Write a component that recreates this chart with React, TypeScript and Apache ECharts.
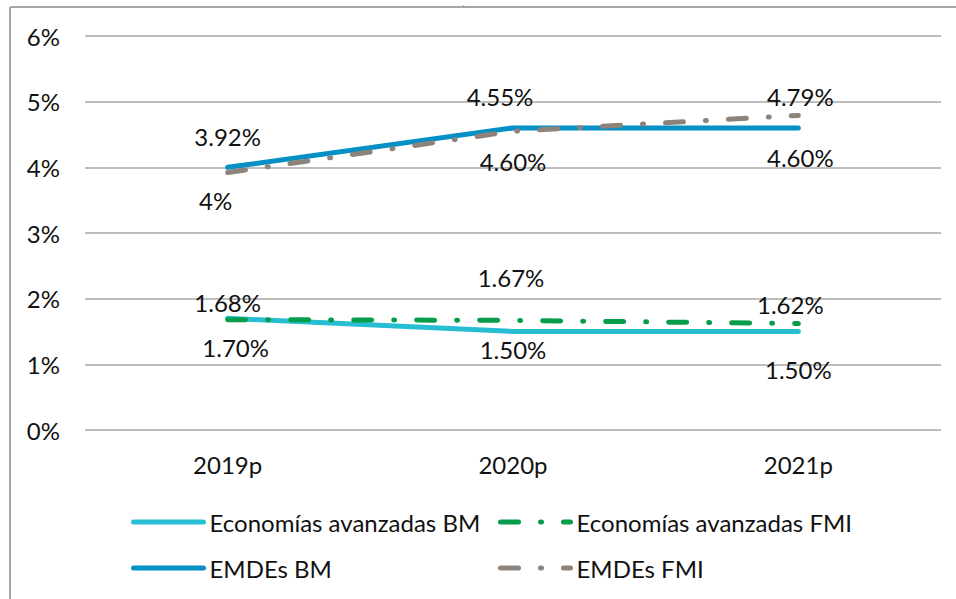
import React, { useEffect, useRef } from "react";
import * as echarts from "echarts";

const categories = ["2019p", "2020p", "2021p"];
const yTicks = [0, 1, 2, 3, 4, 5, 6];

const avanzadasBM = [1.7, 1.5, 1.5];
const avanzadasFMI = [1.68, 1.67, 1.62];
const emdesBM = [4.0, 4.6, 4.6];
const emdesFMI = [3.92, 4.55, 4.79];

const labelsAvanzadasBM = ["1.70%", "1.50%", "1.50%"];
const labelsAvanzadasFMI = ["1.68%", "1.67%", "1.62%"];
const labelsEmdesBM = ["4%", "4.60%", "4.60%"];
const labelsEmdesFMI = ["3.92%", "4.55%", "4.79%"];

const seriesNames = [
  "Economías avanzadas BM",
  "Economías avanzadas FMI",
  "EMDEs BM",
  "EMDEs FMI",
];

// label placement (style only)
const offAvBM = [[8, 29], [0, 18], [0, 38]];
const offAvFMI = [[0, -17], [-2, -43], [-8, -19]];
const offEmBM = [[-12, 33], [0, 34], [2, 30]];
const offEmFMI = [[0, -36], [-13, -35], [2, -19]];

const FONT = "Lato";
const FS = 24;
const TXT = "#111111";

function buildData(values: number[], labels: string[], offs: number[][]) {
  return values.map((v, i) => ({
    value: v,
    label: {
      show: true,
      position: "inside",
      formatter: labels[i],
      offset: offs[i],
      color: TXT,
      fontFamily: FONT,
      fontSize: FS,
    },
  }));
}

function lineSeries(
  name: string,
  color: string,
  values: number[],
  labels: string[],
  offs: number[][],
  dashed: boolean,
  z: number
) {
  return {
    name,
    type: "line",
    z,
    symbol: "circle",
    symbolSize: 0.5,
    showSymbol: true,
    itemStyle: { color },
    lineStyle: {
      color,
      width: 5,
      type: dashed ? [18, 22, 1, 22] : "solid",
      cap: "round",
      join: "round",
    },
    emphasis: { disabled: true },
    data: buildData(values, labels, offs),
  };
}

export default function App() {
  const ref = useRef<HTMLDivElement>(null);
  useEffect(() => {
    if (!ref.current) return;
    const chart = echarts.init(ref.current, undefined, { renderer: "svg" });
    const legendCommon = {
      orient: "vertical",
      itemWidth: 70,
      itemHeight: 14,
      itemGap: 20,
      selectedMode: false,
      padding: 0,
      textStyle: {
        fontFamily: FONT,
        fontSize: FS,
        color: TXT,
        lineHeight: 26,
        padding: [0, 0, 0, 1],
      },
      itemStyle: { opacity: 0 },
      lineStyle: { width: 5 },
    };
    chart.setOption({
      animation: false,
      backgroundColor: "#ffffff",
      textStyle: { fontFamily: FONT },
      grid: { left: 85, right: 15, top: 36, bottom: 169, containLabel: false },
      xAxis: {
        type: "category",
        data: categories,
        boundaryGap: true,
        axisLine: { show: false },
        axisTick: { show: false },
        axisLabel: { color: TXT, fontFamily: FONT, fontSize: FS, margin: 22 },
      },
      yAxis: {
        type: "value",
        min: yTicks[0],
        max: yTicks[yTicks.length - 1],
        interval: 1,
        axisLine: { show: false },
        axisTick: { show: false },
        axisLabel: {
          color: TXT,
          fontFamily: FONT,
          fontSize: FS,
          margin: 25,
          formatter: (v: number) => `${v}%`,
        },
        splitLine: { lineStyle: { color: "#a9a9a9", width: 1.5 } },
      },
      legend: [
        { ...legendCommon, left: 131, top: 509, data: [seriesNames[0], seriesNames[2]] },
        { ...legendCommon, left: 498, top: 509, data: [seriesNames[1], seriesNames[3]] },
      ],
      graphic: [
        {
          type: "line",
          shape: { x1: 10, y1: 7, x2: 956, y2: 7 },
          style: { stroke: "#a6a6a6", lineWidth: 2 },
          silent: true,
        },
        {
          type: "line",
          shape: { x1: 10, y1: 7, x2: 10, y2: 599 },
          style: { stroke: "#a6a6a6", lineWidth: 2 },
          silent: true,
        },
        {
          type: "text",
          x: 463,
          y: 0,
          style: { text: ",", fontFamily: FONT, fontSize: 6, fill: TXT, verticalAlign: "top" },
          silent: true,
        },
      ],
      series: [
        lineSeries(seriesNames[0], "#27bdd3", avanzadasBM, labelsAvanzadasBM, offAvBM, false, 2),
        lineSeries(seriesNames[1], "#069d4a", avanzadasFMI, labelsAvanzadasFMI, offAvFMI, true, 3),
        lineSeries(seriesNames[2], "#0490c4", emdesBM, labelsEmdesBM, offEmBM, false, 2),
        lineSeries(seriesNames[3], "#8e837b", emdesFMI, labelsEmdesFMI, offEmFMI, true, 3),
      ],
    });
    return () => chart.dispose();
  }, []);
  return (
    <div
      ref={ref}
      style={{ position: "absolute", left: 0, top: 0, width: 956, height: 599 }}
    />
  );
}
